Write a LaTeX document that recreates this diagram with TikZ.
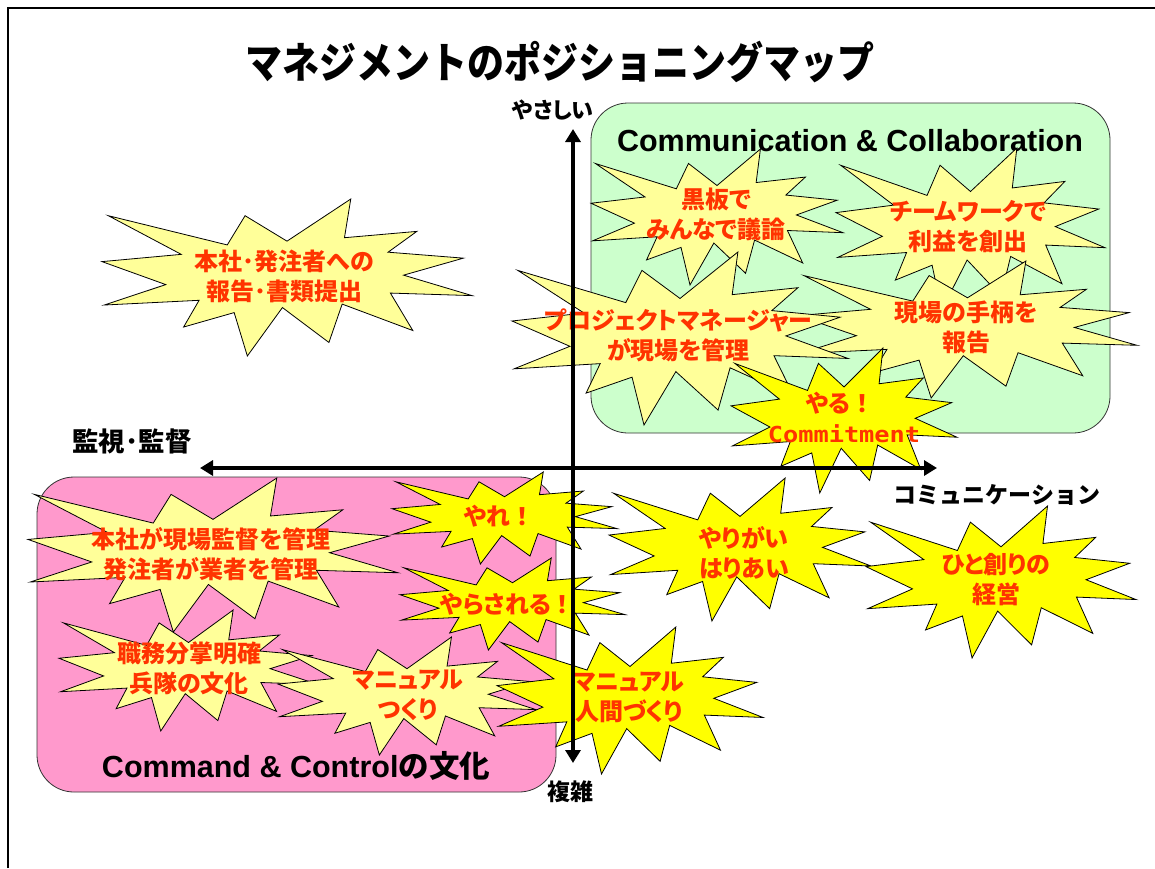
\documentclass[tikz,border=0pt]{standalone}
\usepackage{graphicx}
\usepackage{fontspec}
\setmainfont{Liberation Sans}
\newfontfamily\jp{Noto Sans CJK JP}
\newfontfamily\jpp{Noto Sans CJK JP}[RawFeature=+palt]
\newfontfamily\monofnt{DejaVu Sans Mono}
\usetikzlibrary{arrows.meta}
\definecolor{lyel}{HTML}{FFFF99}
\definecolor{byel}{HTML}{FFFF00}
\definecolor{gbox}{HTML}{CCFFCC}
\definecolor{pbox}{HTML}{FF99CC}
\definecolor{txtred}{HTML}{FF3300}
\newcommand\fwex{{\jp ！}}
\tikzset{
  sealline/.style={draw=black, line width=0.8pt, line join=miter},
  lbl/.style={text=txtred, font=\jpp\bfseries\fontsize{24}{30}\selectfont, align=center, inner sep=0pt},
  axlbl/.style={text=black, font=\jp\bfseries\fontsize{23}{23}\selectfont, inner sep=0pt},
  boxlbl/.style={text=black, font=\bfseries\fontsize{30.5}{30.5}\selectfont, inner sep=0pt},
  axisline/.style={line width=3.6pt, {Triangle[length=13pt,width=15pt]}-{Triangle[length=13pt,width=15pt]}},
  quadbox/.style={draw=black!80, line width=0.8pt, rounded corners=37pt}
}
\newcommand\seal[5]{%
  \draw[sealline, fill=#5, shift={(#1,#2)}, xscale=#3, yscale=#4]
  (0.5,0.2685)--(0.6723,0)--(0.6553,0.2465)--(0.8509,0.2063)--(0.7732,0.3387)--(0.9767,0.3767)
  --(0.8151,0.4850)--(1,0.6153)--(0.7795,0.5992)--(0.8400,0.8377)--(0.6491,0.6693)--(0.6133,0.9137)
  --(0.4876,0.6914)--(0.3928,1)--(0.3572,0.7235)--(0.2205,0.8156)--(0.2624,0.6452)--(0.00625,0.6753)
  --(0.1723,0.5451)--(0,0.3988)--(0.2142,0.3526)--(0.0171,0.1063)--(0.3385,0.2926)--(0.3867,0.1063)--cycle;}
\begin{document}
\begin{tikzpicture}[x=1pt, y=-1pt]
\useasboundingbox (0,0) rectangle (1155,868);
% page frame
\draw[line width=2pt] (8,868) -- (8,8) -- (1160,8);
% title
\node (title) at (560,62) {\jp\bfseries\fontsize{37}{37}\selectfont\scalebox{1}[1.15]{マネジメントのポジショニングマップ}};
% quadrant boxes
\draw[quadbox, fill=gbox] (591,103) rectangle (1110,433);
\draw[quadbox, fill=pbox] (37,477) rectangle (556,792);
\node[boxlbl] (cc) at (850,141) {Communication \& Collaboration};
\node[boxlbl] (cmd) at (296,766) {Command \& Control{\jp の文化}};
% upper explosions
\seal{102}{199}{370}{157}{lyel}
\node[lbl] (t1) at (284.5,276) {本社･発注者への\\報告･書類提出};
\seal{591}{149}{252}{136}{lyel}
\node[lbl] (t2) at (716,214) {黒板で\\みんなで議論};
\seal{836}{148}{269}{162}{lyel}
\node[lbl] (t3) at (968,226.5) {チームワークで\\利益を創出};
\seal{798}{261}{339}{137}{lyel}
\node[lbl] (t5) at (966,327.5) {現場の手柄を\\報告};
\seal{512}{252}{336}{173}{lyel}
\node[lbl] (t4) at (678.5,335) {プロジェクトマネージャー\\が現場を管理};
\seal{731}{348}{226}{145}{byel}
\node[lbl] (t6) at (840,403) {やる\fwex};
\node[text=txtred, font=\monofnt\bfseries\fontsize{22}{22}\selectfont, inner sep=0pt] (t6b) at (844,434) {\scalebox{1.15}[1]{Commitment}};
% lower explosions
\seal{28}{478}{370}{154}{lyel}
\node[lbl] (t7) at (211,554.5) {本社が現場監督を管理\\発注者が業者を管理};
\seal{59}{610}{259}{121}{lyel}
\node[lbl] (t8) at (189,668.5) {職務分掌明確\\兵隊の文化};
\seal{278}{637}{258}{118}{lyel}
\node[lbl] (t9) at (408,695) {マニュアル\\つくり};
\seal{392}{472}{225}{92}{byel}
\node[lbl] (t10) at (499,516) {やれ\fwex};
\seal{400}{558}{225}{92}{byel}
\node[lbl] (t11) at (507.5,604) {やらされる\fwex};
\seal{497}{627}{266}{147}{byel}
\node[lbl] (t12) at (629,697) {マニュアル\\人間づくり};
\seal{609}{478}{262}{143}{byel}
\node[lbl] (t13) at (744,553) {やりがい\\はりあい};
\seal{866}{506}{270}{152}{byel}
\node[lbl] (t14) at (996,580) {ひと創りの\\経営};
% axes
\coordinate (ytop) at (573,129);
\coordinate (ybot) at (573,763);
\coordinate (xleft) at (200,468);
\coordinate (xright) at (937,468);
\draw[axisline] (ybot) -- (ytop);
\draw[axisline] (xleft) -- (xright);
% axis labels
\node[axlbl, font=\jpp\bfseries\fontsize{22}{22}\selectfont] (ly1) at (553,110) {やさしい};
\node[axlbl, font=\jp\bfseries\fontsize{26.5}{26.5}\selectfont] (lx1) at (132,441) {監視･監督};
\node[axlbl] (lx2) at (997,495) {コミュニケーション};
\node[axlbl] (ly2) at (570,792) {複雑};
\end{tikzpicture}
\end{document}
